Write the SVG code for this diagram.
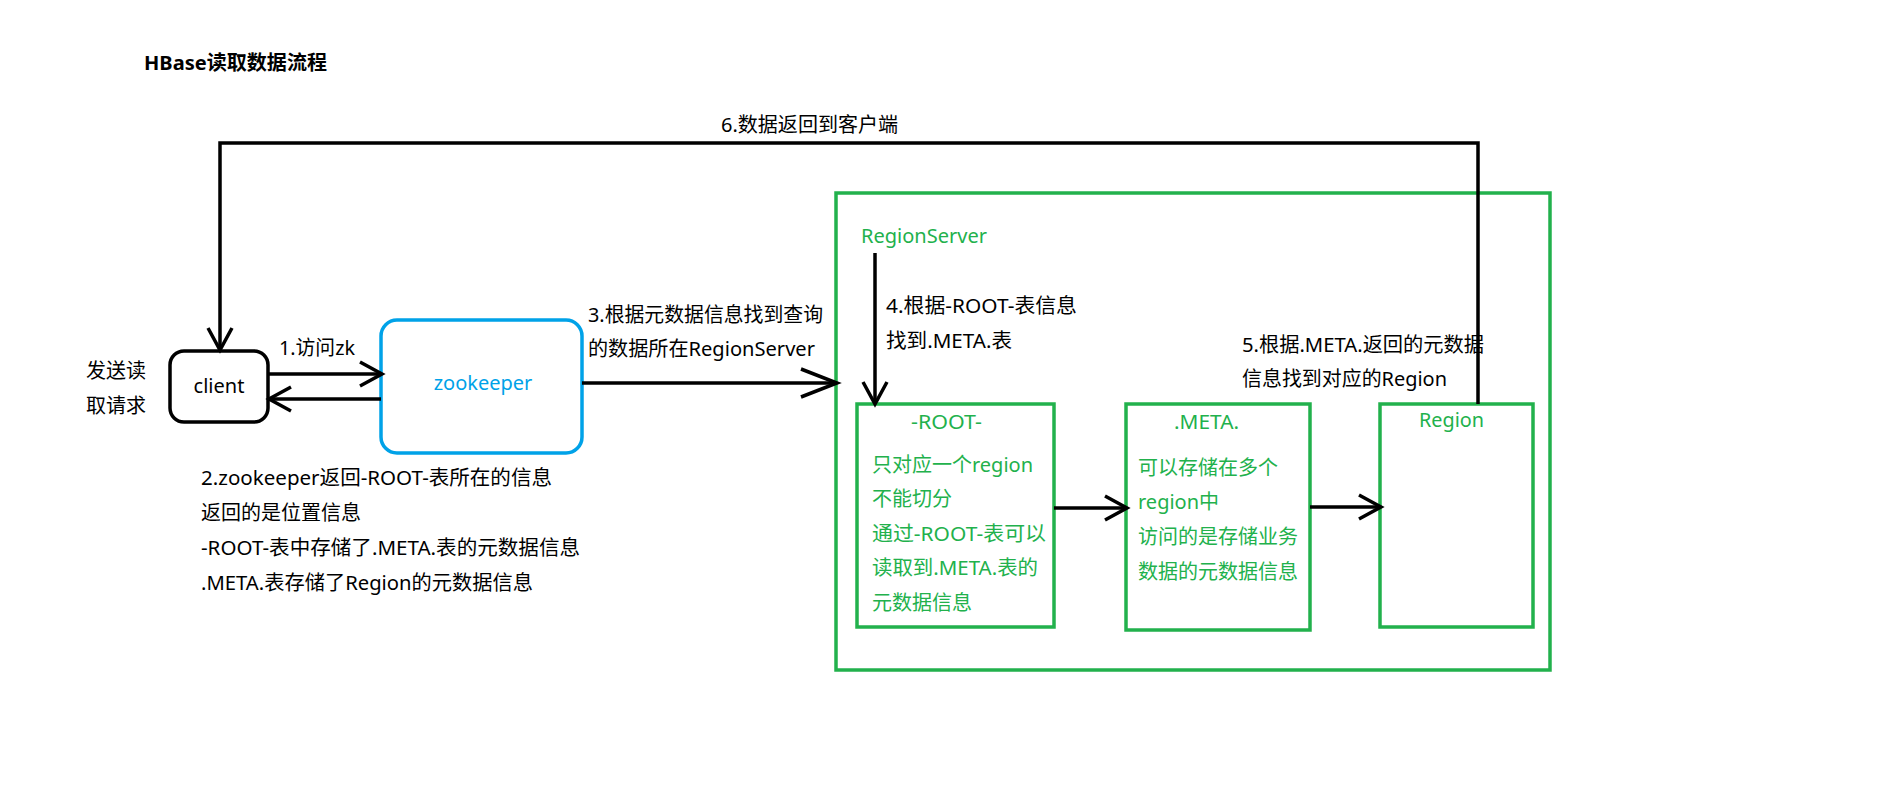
<svg xmlns="http://www.w3.org/2000/svg" width="1900" height="800" viewBox="0 0 1900 800">
<style>
text{font-family:'Noto Sans','Noto Sans CJK SC',sans-serif;font-size:20px;fill:#000}
.title{font-weight:bold}
.g{fill:#22B14C}
.b{fill:#00A2E8}
.mid{text-anchor:middle}
.box{fill:#fff;stroke:#22B14C;stroke-width:3.5}
.conn{fill:none;stroke:#000;stroke-width:3.5}
</style>
<defs>
<marker id="arr" markerUnits="userSpaceOnUse" viewBox="-30 -20 40 40" markerWidth="40" markerHeight="40" refX="0" refY="0" orient="auto" overflow="visible">
<path d="M-22,-12 L0,0 L-22,12" fill="none" stroke="#000" stroke-width="3.5"/>
</marker>
<marker id="arrBig" markerUnits="userSpaceOnUse" viewBox="-45 -20 55 40" markerWidth="55" markerHeight="40" refX="0" refY="0" orient="auto" overflow="visible">
<path d="M-36,-14 L0,0 L-36,14" fill="none" stroke="#000" stroke-width="3.5"/>
</marker>
</defs>
<rect width="1900" height="800" fill="#fff"/>
<text class="title" x="144" y="70" textLength="183" lengthAdjust="spacingAndGlyphs">HBase读取数据流程</text>

<g id="regionserver">
<rect class="box" x="836" y="193" width="714" height="477"/>
<text class="g" x="861" y="243" textLength="126" lengthAdjust="spacingAndGlyphs">RegionServer</text>
</g>

<g id="client">
<rect x="170" y="351" width="98" height="71" rx="14" fill="#fff" stroke="#000" stroke-width="3.5"/>
<text class="mid" x="219" y="393">client</text>
</g>
<text x="86" y="378">发送读</text>
<text x="86" y="413">取请求</text>

<g id="zookeeper">
<rect x="381" y="320" width="201" height="133" rx="16" fill="#fff" stroke="#00A2E8" stroke-width="3.5"/>
<text class="b mid" x="483" y="390">zookeeper</text>
</g>

<g id="root">
<rect class="box" x="857" y="404" width="197" height="223"/>
<text class="g" x="911" y="429" textLength="71" lengthAdjust="spacingAndGlyphs">-ROOT-</text>
<text class="g" x="872" y="472" textLength="161" lengthAdjust="spacingAndGlyphs">只对应一个region</text>
<text class="g" x="872" y="506">不能切分</text>
<text class="g" x="872" y="541" textLength="174" lengthAdjust="spacingAndGlyphs">通过-ROOT-表可以</text>
<text class="g" x="872" y="575" textLength="166" lengthAdjust="spacingAndGlyphs">读取到.META.表的</text>
<text class="g" x="872" y="610">元数据信息</text>
</g>

<g id="meta">
<rect class="box" x="1126" y="404" width="184" height="226"/>
<text class="g" x="1174" y="429" textLength="65" lengthAdjust="spacingAndGlyphs">.META.</text>
<text class="g" x="1138" y="475">可以存储在多个</text>
<text class="g" x="1138" y="509" textLength="81" lengthAdjust="spacingAndGlyphs">region中</text>
<text class="g" x="1138" y="544">访问的是存储业务</text>
<text class="g" x="1138" y="579">数据的元数据信息</text>
</g>

<g id="region">
<rect class="box" x="1380" y="404" width="153" height="223"/>
<text class="g" x="1419" y="427" textLength="65" lengthAdjust="spacingAndGlyphs">Region</text>
</g>

<g id="connectors">
<path class="conn" d="M1478,404 V143 H220 V350" marker-end="url(#arr)"/>
<path class="conn" d="M268,374 H382" marker-end="url(#arr)"/>
<path class="conn" d="M381,399 H269" marker-end="url(#arr)"/>
<path class="conn" d="M582,383 H837" marker-end="url(#arrBig)"/>
<path class="conn" d="M875,253 V404" marker-end="url(#arr)"/>
<path class="conn" d="M1054,508 H1127" marker-end="url(#arr)"/>
<path class="conn" d="M1310,507 H1381" marker-end="url(#arr)"/>
</g>

<g id="labels">
<text x="721" y="132" textLength="177" lengthAdjust="spacingAndGlyphs">6.数据返回到客户端</text>
<text x="279" y="355" textLength="76" lengthAdjust="spacingAndGlyphs">1.访问zk</text>
<text x="201" y="485" textLength="351" lengthAdjust="spacingAndGlyphs">2.zookeeper返回-ROOT-表所在的信息</text>
<text x="201" y="520">返回的是位置信息</text>
<text x="201" y="555" textLength="379" lengthAdjust="spacingAndGlyphs">-ROOT-表中存储了.META.表的元数据信息</text>
<text x="201" y="590" textLength="332" lengthAdjust="spacingAndGlyphs">.META.表存储了Region的元数据信息</text>
<text x="588" y="322" textLength="235" lengthAdjust="spacingAndGlyphs">3.根据元数据信息找到查询</text>
<text x="588" y="356" textLength="227" lengthAdjust="spacingAndGlyphs">的数据所在RegionServer</text>
<text x="886" y="313" textLength="191" lengthAdjust="spacingAndGlyphs">4.根据-ROOT-表信息</text>
<text x="886" y="348" textLength="126" lengthAdjust="spacingAndGlyphs">找到.META.表</text>
<text x="1242" y="352" textLength="242" lengthAdjust="spacingAndGlyphs">5.根据.META.返回的元数据</text>
<text x="1242" y="386" textLength="205" lengthAdjust="spacingAndGlyphs">信息找到对应的Region</text>
</g>
</svg>
